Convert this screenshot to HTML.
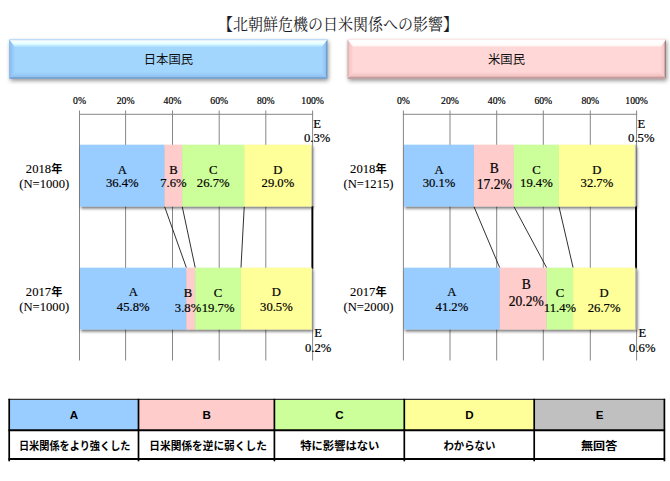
<!DOCTYPE html>
<html><head><meta charset="utf-8"><title>chart</title>
<style>
html,body{margin:0;padding:0;background:#fff;}
body{width:670px;height:481px;overflow:hidden;font-family:"Liberation Serif",serif;}
svg{display:block;position:absolute;left:0;top:0;}
text{font-family:"Liberation Serif",serif;fill:#000;}
.ax{font-size:9.7px;text-anchor:middle;stroke:#000;stroke-width:0.2px;}
.dl{font-size:12.67px;text-anchor:middle;stroke:#000;stroke-width:0.2px;}
.dlb{font-size:13.6px;text-anchor:middle;stroke:#000;stroke-width:0.2px;}
.lg{font-family:"Liberation Sans","Noto Sans CJK JP",sans-serif;font-weight:bold;font-size:11px;text-anchor:middle;}
.jp{font-family:"Liberation Sans","Noto Sans CJK JP",sans-serif;}
.jps{font-family:"Liberation Serif","Noto Serif CJK SC","Noto Sans CJK JP",serif;}
</style></head><body>
<svg width="670" height="481" viewBox="0 0 670 481">
<defs>
<filter id="sh" x="-5%" y="-20%" width="110%" height="150%"><feGaussianBlur in="SourceAlpha" stdDeviation="1.8"/><feOffset dx="0.5" dy="2.2"/><feComponentTransfer><feFuncA type="linear" slope="0.55"/></feComponentTransfer><feMerge><feMergeNode/><feMergeNode in="SourceGraphic"/></feMerge></filter>
<filter id="bsh" x="-5%" y="-20%" width="110%" height="160%"><feGaussianBlur in="SourceAlpha" stdDeviation="2"/><feOffset dx="0.7" dy="2.3"/><feComponentTransfer><feFuncA type="linear" slope="0.42"/></feComponentTransfer></filter>
<linearGradient id="gtb" x1="0" y1="0" x2="0" y2="1"><stop offset="0" stop-color="#c9eaff"/><stop offset="0.45" stop-color="#f4fcff"/><stop offset="1" stop-color="#b4defd"/></linearGradient>
<linearGradient id="gtp" x1="0" y1="0" x2="0" y2="1"><stop offset="0" stop-color="#ffe6e6"/><stop offset="0.45" stop-color="#ffffff"/><stop offset="1" stop-color="#ffdede"/></linearGradient>
</defs>
<rect width="670" height="481" fill="#fff"/>

<text class="jps" x="337.9" y="29.5" text-anchor="middle" textLength="240" lengthAdjust="spacingAndGlyphs" style="font-size:16.3px;fill:#1a1a24">【北朝鮮危機の日米関係への影響】</text>
<linearGradient id="bt" gradientUnits="userSpaceOnUse" x1="0" y1="39.4" x2="0" y2="47.4"><stop offset="0" stop-color="#b4dafb"/><stop offset="0.2" stop-color="#fbffff"/><stop offset="0.55" stop-color="#e0ffff"/><stop offset="1" stop-color="#a3d6fd"/></linearGradient>
<linearGradient id="bl" gradientUnits="userSpaceOnUse" x1="9.3" y1="0" x2="15.3" y2="0"><stop offset="0" stop-color="#7faedd"/><stop offset="0.2" stop-color="#8cc0f3"/><stop offset="1" stop-color="#a3d6fd"/></linearGradient>
<linearGradient id="br" gradientUnits="userSpaceOnUse" x1="321.4" y1="0" x2="327.4" y2="0"><stop offset="0" stop-color="#a3d6fd"/><stop offset="0.7" stop-color="#90c2f4"/><stop offset="0.8" stop-color="#7ba7d6"/><stop offset="0.9" stop-color="#6a93c0"/><stop offset="1" stop-color="#6a93c0"/></linearGradient>
<linearGradient id="bb" gradientUnits="userSpaceOnUse" x1="0" y1="71.8" x2="0" y2="78.8"><stop offset="0" stop-color="#a3d6fd"/><stop offset="0.7" stop-color="#92c3f3"/><stop offset="0.8" stop-color="#7aa6d5"/><stop offset="1" stop-color="#6b95c3"/></linearGradient>
<rect x="9.3" y="39.4" width="318.09999999999997" height="39.4" fill="#000" filter="url(#bsh)"/>
<rect x="9.3" y="39.4" width="318.09999999999997" height="39.4" fill="#a3d6fd"/>
<polygon points="9.3,39.4 15.3,47.4 15.3,71.8 9.3,78.8" fill="url(#bl)"/>
<polygon points="327.4,39.4 321.4,47.4 321.4,71.8 327.4,78.8" fill="url(#br)"/>
<polygon points="9.3,78.8 15.3,71.8 321.4,71.8 327.4,78.8" fill="url(#bb)"/>
<polygon points="9.3,39.4 327.4,39.4 321.4,47.4 15.3,47.4" fill="url(#bt)"/>
<text class="jp" x="168.4" y="63.8" text-anchor="middle" style="font-size:12.3px;fill:#111">日本国民</text>
<linearGradient id="pt" gradientUnits="userSpaceOnUse" x1="0" y1="39.4" x2="0" y2="47.4"><stop offset="0" stop-color="#ffe8e8"/><stop offset="0.15" stop-color="#ffffff"/><stop offset="0.72" stop-color="#fffbfb"/><stop offset="1" stop-color="#ffd7d7"/></linearGradient>
<linearGradient id="pl" gradientUnits="userSpaceOnUse" x1="347.6" y1="0" x2="353.6" y2="0"><stop offset="0" stop-color="#bf9f9f"/><stop offset="0.22" stop-color="#f5c3c3"/><stop offset="1" stop-color="#ffd7d7"/></linearGradient>
<linearGradient id="pr" gradientUnits="userSpaceOnUse" x1="660.0" y1="0" x2="666.0" y2="0"><stop offset="0" stop-color="#ffd7d7"/><stop offset="0.6" stop-color="#f7c8c8"/><stop offset="0.78" stop-color="#c8a2a2"/><stop offset="0.9" stop-color="#9c8484"/><stop offset="1" stop-color="#9c8484"/></linearGradient>
<linearGradient id="pb" gradientUnits="userSpaceOnUse" x1="0" y1="71.8" x2="0" y2="78.8"><stop offset="0" stop-color="#ffd7d7"/><stop offset="0.6" stop-color="#f2c2c2"/><stop offset="0.78" stop-color="#cba1a1"/><stop offset="1" stop-color="#b08c8c"/></linearGradient>
<rect x="347.6" y="39.4" width="318.4" height="39.4" fill="#000" filter="url(#bsh)"/>
<rect x="347.6" y="39.4" width="318.4" height="39.4" fill="#ffd7d7"/>
<polygon points="347.6,39.4 353.6,47.4 353.6,71.8 347.6,78.8" fill="url(#pl)"/>
<polygon points="666.0,39.4 660.0,47.4 660.0,71.8 666.0,78.8" fill="url(#pr)"/>
<polygon points="347.6,78.8 353.6,71.8 660.0,71.8 666.0,78.8" fill="url(#pb)"/>
<polygon points="347.6,39.4 666.0,39.4 660.0,47.4 353.6,47.4" fill="url(#pt)"/>
<text class="jp" x="506.5" y="63.8" text-anchor="middle" style="font-size:12.3px;fill:#111">米国民</text>
<line x1="79.5" y1="110.5" x2="79.5" y2="360.5" stroke="#868686" stroke-width="1"/>
<text class="ax" x="79.5" y="104.2">0%</text>
<line x1="125.6" y1="110.5" x2="125.6" y2="360.5" stroke="#868686" stroke-width="1"/>
<text class="ax" x="125.6" y="104.2">20%</text>
<line x1="172.5" y1="110.5" x2="172.5" y2="360.5" stroke="#868686" stroke-width="1"/>
<text class="ax" x="172.5" y="104.2">40%</text>
<line x1="219.2" y1="110.5" x2="219.2" y2="360.5" stroke="#868686" stroke-width="1"/>
<text class="ax" x="219.2" y="104.2">60%</text>
<line x1="265.8" y1="110.5" x2="265.8" y2="360.5" stroke="#868686" stroke-width="1"/>
<text class="ax" x="265.8" y="104.2">80%</text>
<line x1="312.6" y1="110.5" x2="312.6" y2="360.5" stroke="#868686" stroke-width="1"/>
<text class="ax" x="312.6" y="104.2">100%</text>
 <line x1="79.0" y1="114.3" x2="313.1" y2="114.3" stroke="#868686" stroke-width="1"/>
<line x1="164.56" y1="206.5" x2="186.39" y2="267.7" stroke="#1a1a1a" stroke-width="0.9"/>
<line x1="182.21" y1="206.5" x2="195.22" y2="267.7" stroke="#1a1a1a" stroke-width="0.9"/>
<line x1="244.24" y1="206.5" x2="240.98" y2="267.7" stroke="#1a1a1a" stroke-width="0.9"/>
<line x1="312.36" y1="206" x2="312.36" y2="269" stroke="#000" stroke-width="1.9"/>
<g filter="url(#sh)">
<rect x="80.00" y="144.7" width="84.56" height="61.80000000000001" fill="#99ccff"/>
<rect x="164.56" y="144.7" width="17.65" height="61.80000000000001" fill="#ffcccc"/>
<rect x="182.21" y="144.7" width="62.02" height="61.80000000000001" fill="#ccff99"/>
<rect x="244.24" y="144.7" width="67.37" height="61.80000000000001" fill="#ffff99"/>
<rect x="311.60" y="144.7" width="0.70" height="61.80000000000001" fill="#c0c0c0"/>
</g>
<text class="dl" x="122.3" y="173.6">A</text>
<text class="dl" x="122.3" y="186.9">36.4%</text>
<text class="dl" x="173.4" y="173.6">B</text>
<text class="dl" x="173.4" y="186.9">7.6%</text>
<text class="dl" x="213.2" y="173.6">C</text>
<text class="dl" x="213.2" y="186.9">26.7%</text>
<text class="dl" x="277.9" y="173.6">D</text>
<text class="dl" x="277.9" y="186.9">29.0%</text>
<g filter="url(#sh)">
<rect x="80.00" y="267.7" width="106.39" height="61.80000000000001" fill="#99ccff"/>
<rect x="186.39" y="267.7" width="8.83" height="61.80000000000001" fill="#ffcccc"/>
<rect x="195.22" y="267.7" width="45.76" height="61.80000000000001" fill="#ccff99"/>
<rect x="240.98" y="267.7" width="70.85" height="61.80000000000001" fill="#ffff99"/>
<rect x="311.84" y="267.7" width="0.46" height="61.80000000000001" fill="#c0c0c0"/>
</g>
<text class="dl" x="133.2" y="296.0">A</text>
<text class="dl" x="133.2" y="310.8">45.8%</text>
<text class="dl" x="188.0" y="297.0">B</text>
<text class="dl" x="188.0" y="311.7">3.8%</text>
<text class="dl" x="218.1" y="297.0">C</text>
<text class="dl" x="218.1" y="311.7">19.7%</text>
<text class="dl" x="276.4" y="296.0">D</text>
<text class="dl" x="276.4" y="310.8">30.5%</text>
<text class="dl" x="317.2" y="127.6">E</text><text class="dl" x="317.2" y="142">0.3%</text>
<text class="dl" x="318.2" y="337.4">E</text><text class="dl" x="318.2" y="352">0.2%</text>
<text x="25.8" y="173" style="font-size:12.67px;stroke:#000;stroke-width:0.1px">2018</text>
<text class="jp" x="51.2" y="173.2" style="font-size:11.2px;font-weight:bold">年</text>
<text class="dl" x="44.2" y="188" style="stroke-width:0.1px">(N=1000)</text>
<text x="25.8" y="296" style="font-size:12.67px;stroke:#000;stroke-width:0.1px">2017</text>
<text class="jp" x="51.2" y="296.2" style="font-size:11.2px;font-weight:bold">年</text>
<text class="dl" x="44.2" y="311" style="stroke-width:0.1px">(N=1000)</text>
<line x1="403.4" y1="110.5" x2="403.4" y2="360.5" stroke="#868686" stroke-width="1"/>
<text class="ax" x="403.4" y="104.2">0%</text>
<line x1="450.0" y1="110.5" x2="450.0" y2="360.5" stroke="#868686" stroke-width="1"/>
<text class="ax" x="450.0" y="104.2">20%</text>
<line x1="496.7" y1="110.5" x2="496.7" y2="360.5" stroke="#868686" stroke-width="1"/>
<text class="ax" x="496.7" y="104.2">40%</text>
<line x1="543.3" y1="110.5" x2="543.3" y2="360.5" stroke="#868686" stroke-width="1"/>
<text class="ax" x="543.3" y="104.2">60%</text>
<line x1="590.3" y1="110.5" x2="590.3" y2="360.5" stroke="#868686" stroke-width="1"/>
<text class="ax" x="590.3" y="104.2">80%</text>
<line x1="636.6" y1="110.5" x2="636.6" y2="360.5" stroke="#868686" stroke-width="1"/>
<text class="ax" x="636.6" y="104.2">100%</text>
 <line x1="402.9" y1="114.3" x2="637.1" y2="114.3" stroke="#868686" stroke-width="1"/>
<line x1="473.92" y1="206.5" x2="499.71" y2="267.7" stroke="#1a1a1a" stroke-width="0.9"/>
<line x1="513.88" y1="206.5" x2="546.63" y2="267.7" stroke="#1a1a1a" stroke-width="0.9"/>
<line x1="558.94" y1="206.5" x2="573.11" y2="267.7" stroke="#1a1a1a" stroke-width="0.9"/>
<line x1="636.01" y1="206" x2="636.01" y2="269" stroke="#000" stroke-width="1.9"/>
<g filter="url(#sh)">
<rect x="404.00" y="144.7" width="69.92" height="61.80000000000001" fill="#99ccff"/>
<rect x="473.92" y="144.7" width="39.96" height="61.80000000000001" fill="#ffcccc"/>
<rect x="513.88" y="144.7" width="45.07" height="61.80000000000001" fill="#ccff99"/>
<rect x="558.94" y="144.7" width="75.96" height="61.80000000000001" fill="#ffff99"/>
<rect x="634.91" y="144.7" width="1.16" height="61.80000000000001" fill="#c0c0c0"/>
</g>
<text class="dl" x="439.0" y="173.6">A</text>
<text class="dl" x="439.0" y="186.9">30.1%</text>
<text class="dlb" x="494.3" y="172.5">B</text>
<text class="dlb" x="494.3" y="188.6">17.2%</text>
<text class="dl" x="536.4" y="173.6">C</text>
<text class="dl" x="536.4" y="186.9">19.4%</text>
<text class="dl" x="596.9" y="173.6">D</text>
<text class="dl" x="596.9" y="186.9">32.7%</text>
<g filter="url(#sh)">
<rect x="404.00" y="267.7" width="95.71" height="61.80000000000001" fill="#99ccff"/>
<rect x="499.71" y="267.7" width="46.92" height="61.80000000000001" fill="#ffcccc"/>
<rect x="546.63" y="267.7" width="26.48" height="61.80000000000001" fill="#ccff99"/>
<rect x="573.11" y="267.7" width="62.02" height="61.80000000000001" fill="#ffff99"/>
<rect x="635.14" y="267.7" width="1.39" height="61.80000000000001" fill="#c0c0c0"/>
</g>
<text class="dl" x="451.9" y="296.0">A</text>
<text class="dl" x="451.9" y="310.8">41.2%</text>
<text class="dlb" x="526.3" y="289.4">B</text>
<text class="dlb" x="526.3" y="305.5">20.2%</text>
<text class="dl" x="559.9" y="297.0">C</text>
<text class="dl" x="559.9" y="311.7">11.4%</text>
<text class="dl" x="604.1" y="297.0">D</text>
<text class="dl" x="604.1" y="311.7">26.7%</text>
<text class="dl" x="641.3" y="127.6">E</text><text class="dl" x="641.3" y="142">0.5%</text>
<text class="dl" x="642.3" y="337.4">E</text><text class="dl" x="642.3" y="352">0.6%</text>
<text x="350.1" y="173" style="font-size:12.67px;stroke:#000;stroke-width:0.1px">2018</text>
<text class="jp" x="375.5" y="173.2" style="font-size:11.2px;font-weight:bold">年</text>
<text class="dl" x="368.5" y="188" style="stroke-width:0.1px">(N=1215)</text>
<text x="350.1" y="296" style="font-size:12.67px;stroke:#000;stroke-width:0.1px">2017</text>
<text class="jp" x="375.5" y="296.2" style="font-size:11.2px;font-weight:bold">年</text>
<text class="dl" x="368.5" y="311" style="stroke-width:0.1px">(N=2000)</text>
<rect x="9.2" y="399.3" width="129.3" height="30.6" fill="#99ccff"/>
<text class="lg" x="74.05" y="419.4" style="font-size:11.6px">A</text>
<text class="lg" x="74.7" y="450.2" textLength="111.5" lengthAdjust="spacingAndGlyphs">日米関係をより強くした</text>
<rect x="138.5" y="399.3" width="135.89999999999998" height="30.6" fill="#ffcccc"/>
<text class="lg" x="206.65" y="419.4" style="font-size:11.6px">B</text>
<text class="lg" x="208.1" y="450.2" textLength="117.5" lengthAdjust="spacingAndGlyphs">日米関係を逆に弱くした</text>
<rect x="274.4" y="399.3" width="129.90000000000003" height="30.6" fill="#ccff99"/>
<text class="lg" x="339.55" y="419.4" style="font-size:11.6px">C</text>
<text class="lg" x="339.8" y="450.2" textLength="79.2" lengthAdjust="spacingAndGlyphs">特に影響はない</text>
<rect x="404.3" y="399.3" width="129.90000000000003" height="30.6" fill="#ffff99"/>
<text class="lg" x="469.45" y="419.4" style="font-size:11.6px">D</text>
<text class="lg" x="469.4" y="450.2" textLength="52" lengthAdjust="spacingAndGlyphs">わからない</text>
<rect x="534.2" y="399.3" width="130.19999999999993" height="30.6" fill="#c0c0c0"/>
<text class="lg" x="599.5" y="419.4" style="font-size:11.6px">E</text>
<text class="lg" x="599.1" y="450.2" textLength="36.3" lengthAdjust="spacingAndGlyphs">無回答</text>
<line x1="8.5" y1="399.4" x2="665.1" y2="399.4" stroke="#333" stroke-width="1.2"/>
<line x1="8.5" y1="430.2" x2="665.1" y2="430.2" stroke="#000" stroke-width="1.9"/>
<line x1="8.5" y1="459.0" x2="665.1" y2="459.0" stroke="#000" stroke-width="1.9"/>
<line x1="9.2" y1="398.8" x2="9.2" y2="461.3" stroke="#000" stroke-width="1.7"/>
<line x1="138.5" y1="398.8" x2="138.5" y2="461.3" stroke="#000" stroke-width="1.7"/>
<line x1="274.4" y1="398.8" x2="274.4" y2="461.3" stroke="#000" stroke-width="1.7"/>
<line x1="404.3" y1="398.8" x2="404.3" y2="461.3" stroke="#000" stroke-width="1.7"/>
<line x1="534.2" y1="398.8" x2="534.2" y2="461.3" stroke="#000" stroke-width="1.7"/>
<line x1="664.4" y1="398.8" x2="664.4" y2="461.3" stroke="#000" stroke-width="1.7"/>
</svg></body></html>
